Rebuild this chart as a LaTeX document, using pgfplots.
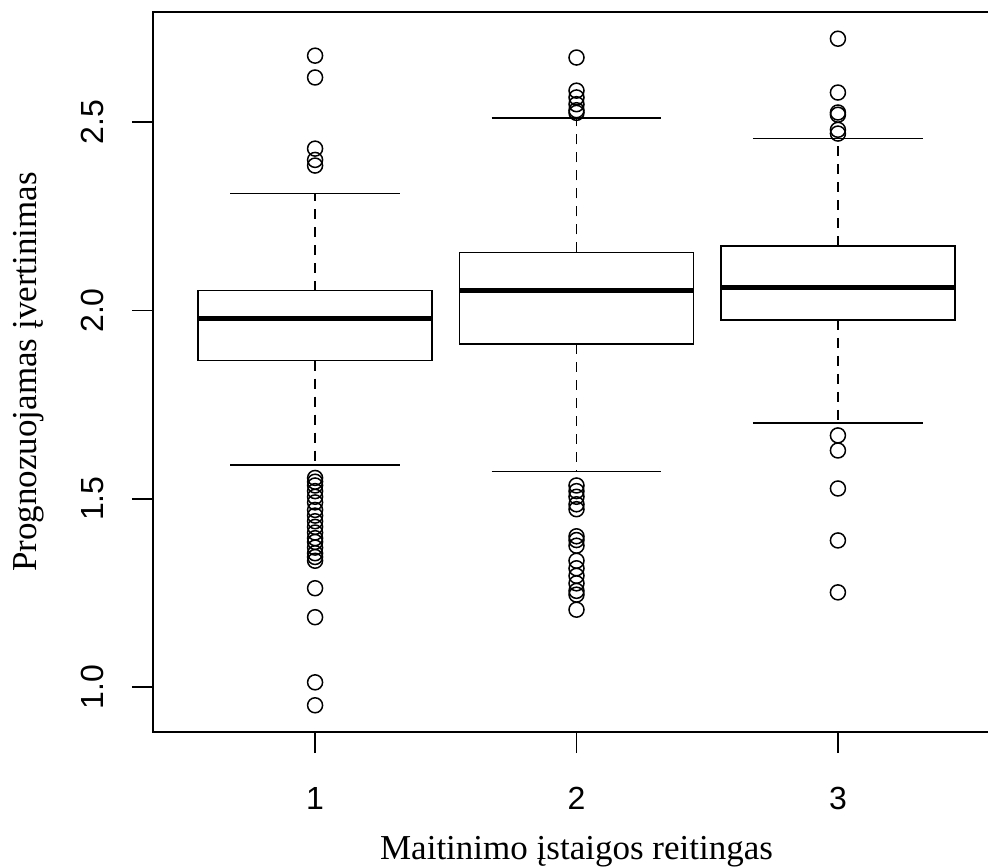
\documentclass[border=0pt]{standalone}
\usepackage{pgfplots}
\pgfplotsset{compat=1.18}
\usepgfplotslibrary{statistics}
\usepackage{fontspec}
\setmainfont{Liberation Serif}
\newfontfamily\arialf{Liberation Sans}

\pgfplotsset{
  boxplot/every box/.style={draw=black, line width=0.9pt, fill=none},
  boxplot/every median/.style={draw=black, line width=2.6pt},
  boxplot/every whisker/.style={draw=black, line width=0.9pt},
  boxplot/draw/lower whisker/.code={%
    \draw[black, line width=0.9pt, dash pattern=on 5pt off 4pt]
      (boxplot cs:\pgfplotsboxplotvalue{lower quartile}) --
      (boxplot cs:\pgfplotsboxplotvalue{lower whisker});
    \draw[black, line width=0.9pt, solid]
      (boxplot whisker cs:\pgfplotsboxplotvalue{lower whisker},0) --
      (boxplot whisker cs:\pgfplotsboxplotvalue{lower whisker},1);
  },
  boxplot/draw/upper whisker/.code={%
    \draw[black, line width=0.9pt, dash pattern=on 5pt off 4pt]
      (boxplot cs:\pgfplotsboxplotvalue{upper quartile}) --
      (boxplot cs:\pgfplotsboxplotvalue{upper whisker});
    \draw[black, line width=0.9pt, solid]
      (boxplot whisker cs:\pgfplotsboxplotvalue{upper whisker},0) --
      (boxplot whisker cs:\pgfplotsboxplotvalue{upper whisker},1);
  },
  outl/.style={black, solid, line width=0.9pt, mark=o, mark size=3.75pt,
    mark options={line width=0.75pt, solid}},
}

\begin{document}
\begin{tikzpicture}
\begin{axis}[
  at={(0,0)}, anchor=south west,
  scale only axis, width=423.5pt, height=360pt,
  xmin=0.38, xmax=3.62, ymin=0.880, ymax=2.793,
  xtick={1,2,3}, xticklabels={1,2,3},
  ytick={1,1.5,2,2.5}, yticklabels={1.0,1.5,2.0,2.5},
  xtick pos=bottom, ytick pos=left,
  tick align=outside, major tick length=10.5pt,
  tick style={black, line width=0.9pt},
  axis line style={line width=0.9pt},
  ticklabel style={font=\arialf\fontsize{16}{16}\selectfont},
  yticklabel style={rotate=90, anchor=south, inner sep=0pt},
  xticklabel style={anchor=north, inner sep=0pt},
  xticklabel shift=17pt, yticklabel shift=14pt,
  xlabel={Maitinimo įstaigos reitingas},
  ylabel={Prognozuojamas įvertinimas},
  every axis x label/.style={at={(axis description cs:0.5,-0.1764)}, anchor=base,
    font=\fontsize{17.5}{17.5}\selectfont},
  every axis y label/.style={at={(axis description cs:-0.1370,0.5)}, rotate=90, anchor=base,
    font=\fontsize{17.5}{17.5}\selectfont},
  boxplot/draw direction=y,
  clip=false,
]
\addplot[outl, boxplot prepared={draw position=1, lower whisker=1.59, lower quartile=1.867,
  median=1.979, upper quartile=2.053, upper whisker=2.311, box extend=0.895, whisker extend=0.65}]
  table[row sep=\\, y index=0] {
  2.677\\ 2.619\\ 2.430\\ 2.400\\ 2.385\\
  1.555\\ 1.545\\ 1.535\\ 1.520\\ 1.505\\ 1.490\\ 1.470\\ 1.455\\ 1.440\\ 1.425\\
  1.410\\ 1.395\\ 1.385\\ 1.370\\ 1.355\\ 1.345\\ 1.335\\
  1.262\\ 1.185\\ 1.012\\ 0.951\\
  };
\addplot[outl, boxplot prepared={draw position=2, lower whisker=1.572, lower quartile=1.910,
  median=2.053, upper quartile=2.154, upper whisker=2.512, box extend=0.895, whisker extend=0.65}]
  table[row sep=\\, y index=0] {
  2.672\\ 2.584\\ 2.566\\ 2.548\\ 2.532\\ 2.525\\
  1.535\\ 1.520\\ 1.505\\ 1.485\\ 1.472\\
  1.400\\ 1.390\\ 1.375\\ 1.335\\ 1.315\\ 1.295\\ 1.275\\ 1.255\\ 1.245\\ 1.205\\
  };
\addplot[outl, boxplot prepared={draw position=3, lower whisker=1.700, lower quartile=1.975,
  median=2.061, upper quartile=2.172, upper whisker=2.457, box extend=0.895, whisker extend=0.65}]
  table[row sep=\\, y index=0] {
  2.722\\ 2.579\\ 2.526\\ 2.520\\ 2.480\\ 2.470\\
  1.668\\ 1.628\\ 1.527\\ 1.389\\ 1.251\\
  };
\end{axis}
\pgfresetboundingbox
\useasboundingbox (-76.5pt,-67.5pt) rectangle (417.5pt,366pt);
\end{tikzpicture}
\end{document}
